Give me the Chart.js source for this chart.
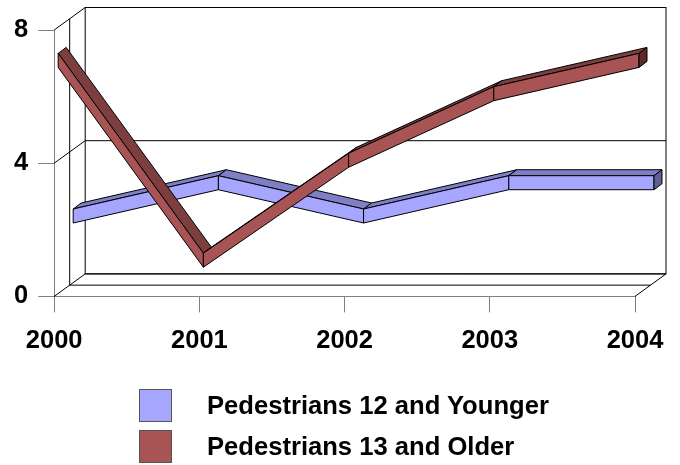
<!DOCTYPE html>
<html lang="en">
<head>
    <meta charset="UTF-8">
    <title>Pedestrians</title>
    <script src="https://cdn.jsdelivr.net/npm/chart.js"></script>
    <style>
        body {
            margin: 0;
            background: #fff;
            font-family: 'Liberation Sans', Arial, sans-serif;
        }

        .wrap {
            position: relative;
            width: 680px;
            height: 465px;
        }

        .legend {
            position: absolute;
            left: 139px;
            top: 389px;
        }

        .legend-item {
            display: flex;
            align-items: center;
            height: 33px;
            margin-bottom: 8px;
            font-size: 25.6px;
            font-weight: bold;
            color: #000;
        }

        .legend-box {
            width: 31px;
            height: 31px;
            border: 1px solid #555;
            margin-right: 35px;
        }
    </style>
</head>
<body>
    <div class="wrap">
        <canvas id="chart"></canvas>
        <div class="legend" id="legend"></div>
    </div>

    <script>
        // chart data
        const years = ['2000', '2001', '2002', '2003', '2004'];
        const youngerValues = [2, 3, 2, 3, 3];
        const olderValues = [7, 1, 4, 6, 7];
        const yTicks = [0, 4, 8];
        const seriesNames = ['Pedestrians 12 and Younger', 'Pedestrians 13 and Older'];

        // 3d look: offset from front to back wall, ribbon size
        const DEPTH = { x: 31, y: -22.5 };
        const HALF = 7;
        const RIB = { x: 8, y: -6 };

        function line(ctx, x1, y1, x2, y2) {
            ctx.beginPath();
            ctx.moveTo(x1, y1);
            ctx.lineTo(x2, y2);
            ctx.stroke();
        }

        function poly(ctx, pts, fill) {
            ctx.beginPath();
            ctx.moveTo(pts[0][0], pts[0][1]);
            for (let i = 1; i < pts.length; i++) ctx.lineTo(pts[i][0], pts[i][1]);
            ctx.closePath();
            ctx.fillStyle = fill;
            ctx.fill();
            ctx.stroke();
        }

        // back wall, side wall and floor
        const wallPlugin = {
            id: 'walls',
            beforeDatasetsDraw(chart) {
                const { ctx, scales: { x, y } } = chart;
                const l = x.getPixelForValue(0);
                const r = x.getPixelForValue(years.length - 1);
                const y0 = y.getPixelForValue(yTicks[0]);
                const yTop = y.getPixelForValue(yTicks[yTicks.length - 1]);
                const dx = DEPTH.x, dy = DEPTH.y;

                ctx.save();
                ctx.strokeStyle = '#000';
                ctx.lineWidth = 1;

                // back wall
                ctx.strokeRect(l + dx, yTop + dy, r - l, y0 - yTop);
                yTicks.forEach(v => {
                    const py = y.getPixelForValue(v);
                    line(ctx, l + dx, py + dy, r + dx, py + dy);
                    line(ctx, l, py, l + dx, py + dy);
                });

                // side wall middle edge
                line(ctx, l + dx / 2, yTop + dy / 2, l + dx / 2, y0 + dy / 2);
                // floor
                line(ctx, l + dx / 2, y0 + dy / 2, r + dx / 2, y0 + dy / 2);
                line(ctx, r, y0, r + dx, y0 + dy);
                ctx.restore();
            }
        };

        // ribbons for each series, drawn from the dataset points
        const ribbonPlugin = {
            id: 'ribbons',
            afterDatasetsDraw(chart) {
                const { ctx } = chart;
                ctx.save();
                ctx.strokeStyle = '#000';
                ctx.lineWidth = 1;
                ctx.lineJoin = 'round';

                chart.data.datasets.forEach((ds, i) => {
                    const meta = chart.getDatasetMeta(i);
                    const ox = DEPTH.x * ds.depth;
                    const oy = DEPTH.y * ds.depth;
                    const pts = meta.data.map(p => ({ x: p.x + ox, y: p.y + oy }));

                    for (let j = 0; j < pts.length - 1; j++) {
                        const a = pts[j], b = pts[j + 1];
                        const A = [a.x, a.y - HALF], B = [b.x, b.y - HALF];
                        const C = [b.x, b.y + HALF], D = [a.x, a.y + HALF];
                        poly(ctx, [A, B, [B[0] + RIB.x, B[1] + RIB.y], [A[0] + RIB.x, A[1] + RIB.y]], ds.topColor);
                        poly(ctx, [A, B, C, D], ds.frontColor);
                    }

                    // end cap
                    const e = pts[pts.length - 1];
                    const T = [e.x, e.y - HALF], Bt = [e.x, e.y + HALF];
                    poly(ctx, [T, [T[0] + RIB.x, T[1] + RIB.y], [Bt[0] + RIB.x, Bt[1] + RIB.y], Bt], ds.sideColor);
                });
                ctx.restore();
            }
        };

        const tickFont = {
            family: "'Liberation Sans', Arial, sans-serif",
            size: 25.5,
            weight: 'bold'
        };

        const chart = new Chart(document.getElementById('chart'), {
            type: 'line',
            data: {
                labels: years,
                datasets: [
                    {
                        label: seriesNames[0],
                        data: youngerValues,
                        depth: 19 / 31,
                        frontColor: '#a6a6ff',
                        topColor: '#7f7fc8',
                        sideColor: '#5f5f96',
                        showLine: false,
                        pointRadius: 0,
                        borderWidth: 0
                    },
                    {
                        label: seriesNames[1],
                        data: olderValues,
                        depth: 4 / 31,
                        frontColor: '#a85454',
                        topColor: '#7c3e3e',
                        sideColor: '#5a2a2a',
                        showLine: false,
                        pointRadius: 0,
                        borderWidth: 0
                    }
                ]
            },
            options: {
                responsive: true,
                maintainAspectRatio: false,
                animation: false,
                layout: {
                    padding: { left: 4, right: 45, top: 30, bottom: 96 }
                },
                scales: {
                    x: {
                        offset: false,
                        border: { color: '#808080' },
                        grid: {
                            drawOnChartArea: false,
                            color: '#808080',
                            tickLength: 16
                        },
                        ticks: {
                            font: tickFont,
                            color: '#000',
                            padding: 13,
                            maxRotation: 0,
                            autoSkip: false
                        }
                    },
                    y: {
                        min: 0,
                        max: 8,
                        border: { color: '#808080' },
                        grid: {
                            drawOnChartArea: false,
                            color: '#808080',
                            tickLength: 16
                        },
                        afterBuildTicks: s => {
                            s.ticks = yTicks.map(v => ({ value: v }));
                        },
                        ticks: {
                            font: tickFont,
                            color: '#000',
                            padding: 10
                        }
                    }
                },
                plugins: {
                    legend: { display: false },
                    tooltip: { enabled: false }
                }
            },
            plugins: [wallPlugin, ribbonPlugin]
        });

        // legend under the chart
        const legend = document.getElementById('legend');
        chart.data.datasets.forEach(ds => {
            const item = document.createElement('div');
            item.className = 'legend-item';
            const box = document.createElement('span');
            box.className = 'legend-box';
            box.style.background = ds.frontColor;
            const text = document.createElement('span');
            text.textContent = ds.label;
            item.appendChild(box);
            item.appendChild(text);
            legend.appendChild(item);
        });
    </script>
</body>
</html>
